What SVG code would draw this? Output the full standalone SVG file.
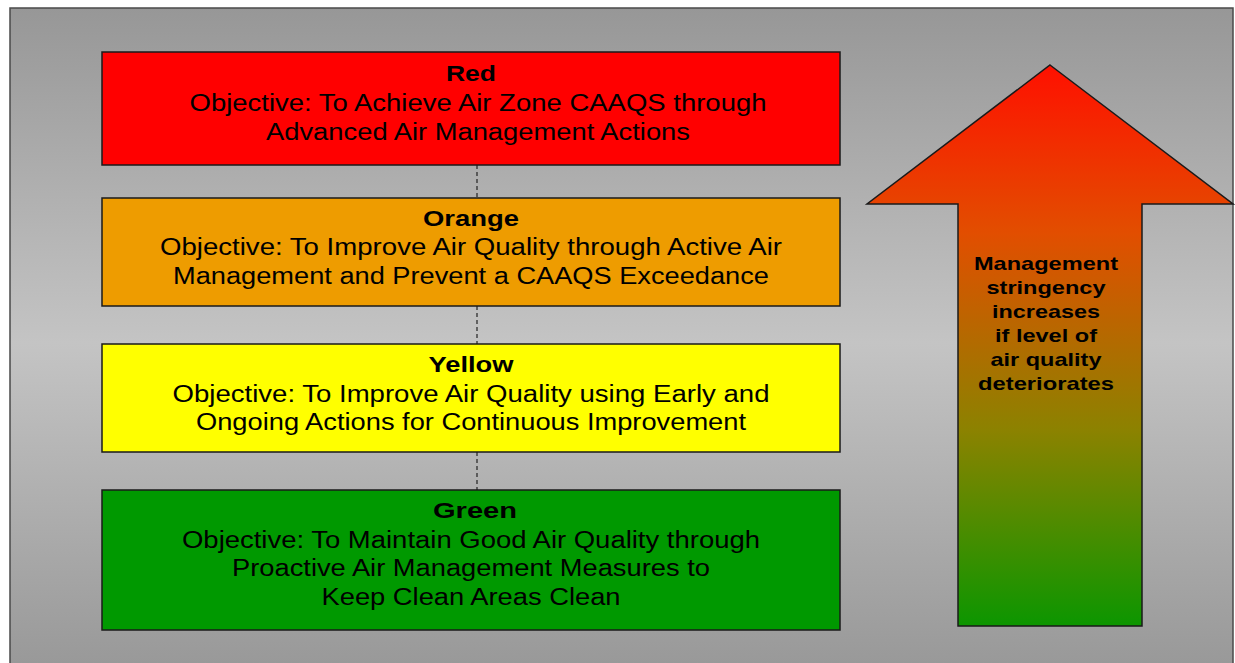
<svg xmlns="http://www.w3.org/2000/svg" width="1235" height="663" viewBox="0 0 1235 663">
  <defs>
    <linearGradient id="bg" x1="0" y1="0" x2="0" y2="1">
      <stop offset="0" stop-color="#979797"/>
      <stop offset="0.5" stop-color="#c4c4c4"/>
      <stop offset="1" stop-color="#979797"/>
    </linearGradient>
    <linearGradient id="arrowFill" gradientUnits="userSpaceOnUse" x1="0" y1="65" x2="0" y2="626">
      <stop offset="0" stop-color="#ff1000"/>
      <stop offset="0.3" stop-color="#e24e00"/>
      <stop offset="0.65" stop-color="#8c8200"/>
      <stop offset="1" stop-color="#0c9600"/>
    </linearGradient>
    <style>
      .box { stroke: #1a1a1a; stroke-width: 1.5; }
      .title { font-family: "Liberation Sans", Arial, sans-serif; font-weight: bold; font-size: 22px; text-anchor: middle; fill: #000; }
      .body { font-family: "Liberation Sans", Arial, sans-serif; font-size: 23px; text-anchor: middle; fill: #000; }
      .note { font-family: "Liberation Sans", Arial, sans-serif; font-weight: bold; font-size: 19px; text-anchor: middle; fill: #000; }
      .link { stroke: #222; stroke-width: 1.2; stroke-dasharray: 4 3; fill: none; }
    </style>
  </defs>

  <!-- panel background -->
  <rect x="0" y="0" width="1235" height="663" fill="#ffffff"/>
  <rect x="10" y="8" width="1223" height="670" fill="url(#bg)" stroke="#4a4a4a" stroke-width="1.5"/>

  <!-- dashed links between levels -->
  <g id="connectors">
    <line class="link" x1="477" y1="165" x2="477" y2="198"/>
    <line class="link" x1="477" y1="306" x2="477" y2="344"/>
    <line class="link" x1="477" y1="452" x2="477" y2="490"/>
  </g>

  <g id="red">
    <rect class="box" x="102" y="52" width="738" height="113" fill="#ff0000"/>
    <text class="title" x="471" y="81" textLength="50" lengthAdjust="spacingAndGlyphs">Red</text>
    <text class="body" x="478" y="111" textLength="577" lengthAdjust="spacingAndGlyphs">Objective: To Achieve Air Zone CAAQS through</text>
    <text class="body" x="478" y="140" textLength="424" lengthAdjust="spacingAndGlyphs">Advanced Air Management Actions</text>
  </g>

  <g id="orange">
    <rect class="box" x="102" y="198" width="738" height="108" fill="#ee9c00"/>
    <text class="title" x="471" y="226" textLength="96" lengthAdjust="spacingAndGlyphs">Orange</text>
    <text class="body" x="471" y="255" textLength="622" lengthAdjust="spacingAndGlyphs">Objective: To Improve Air Quality through Active Air</text>
    <text class="body" x="471" y="284" textLength="596" lengthAdjust="spacingAndGlyphs">Management and Prevent a CAAQS Exceedance</text>
  </g>

  <g id="yellow">
    <rect class="box" x="102" y="344" width="738" height="108" fill="#ffff00"/>
    <text class="title" x="471" y="372" textLength="85" lengthAdjust="spacingAndGlyphs">Yellow</text>
    <text class="body" x="471" y="402" textLength="597" lengthAdjust="spacingAndGlyphs">Objective: To Improve Air Quality using Early and</text>
    <text class="body" x="471" y="430" textLength="550" lengthAdjust="spacingAndGlyphs">Ongoing Actions for Continuous Improvement</text>
  </g>

  <g id="green">
    <rect class="box" x="102" y="490" width="738" height="140" fill="#009900"/>
    <text class="title" x="475" y="518" textLength="84" lengthAdjust="spacingAndGlyphs">Green</text>
    <text class="body" x="471" y="548" textLength="578" lengthAdjust="spacingAndGlyphs">Objective: To Maintain Good Air Quality through</text>
    <text class="body" x="471" y="576" textLength="478" lengthAdjust="spacingAndGlyphs">Proactive Air Management Measures to</text>
    <text class="body" x="471" y="605" textLength="299" lengthAdjust="spacingAndGlyphs">Keep Clean Areas Clean</text>
  </g>

  <g id="stringency-arrow">
    <polygon points="1050,65 1233,204 1142,204 1142,626 958,626 958,204 867,204" fill="url(#arrowFill)" stroke="#1a1a1a" stroke-width="1.5" stroke-linejoin="miter"/>
    <text class="note" x="1046" y="270" textLength="144" lengthAdjust="spacingAndGlyphs">Management</text>
    <text class="note" x="1046" y="294" textLength="119" lengthAdjust="spacingAndGlyphs">stringency</text>
    <text class="note" x="1046" y="318" textLength="108" lengthAdjust="spacingAndGlyphs">increases</text>
    <text class="note" x="1046" y="342" textLength="102" lengthAdjust="spacingAndGlyphs">if level of</text>
    <text class="note" x="1046" y="366" textLength="111" lengthAdjust="spacingAndGlyphs">air quality</text>
    <text class="note" x="1046" y="390" textLength="136" lengthAdjust="spacingAndGlyphs">deteriorates</text>
  </g>
</svg>
